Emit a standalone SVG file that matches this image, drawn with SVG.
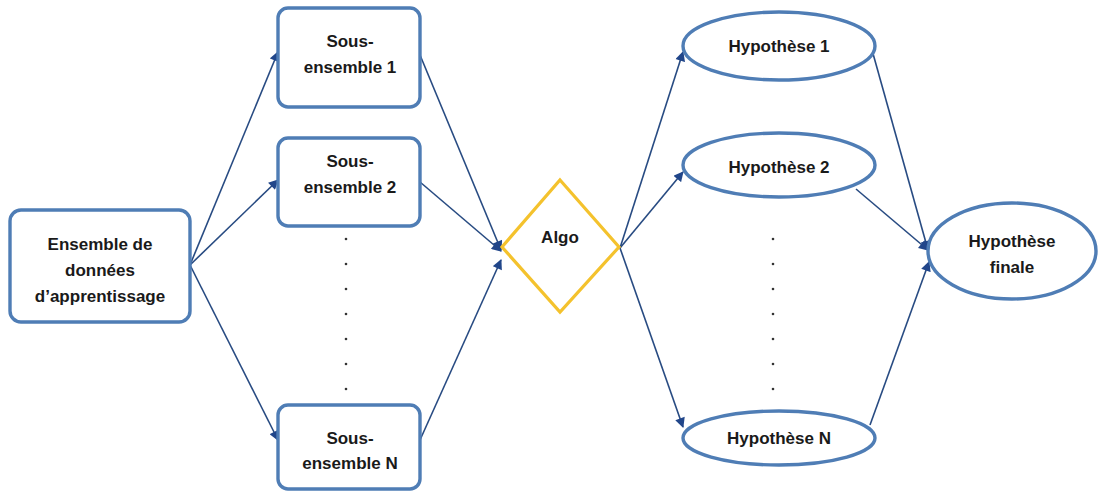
<svg xmlns="http://www.w3.org/2000/svg" width="1102" height="493" viewBox="0 0 1102 493">
  <defs>
    <marker id="arrow" viewBox="0 0 10 10" refX="9" refY="5" markerWidth="11" markerHeight="10" markerUnits="userSpaceOnUse" orient="auto">
      <path d="M0,0 L10,5 L0,10 z" fill="#21468a"/>
    </marker>
    <style>
      .box { fill: #ffffff; stroke: #4f7db5; stroke-width: 3.4; }
      .diamond { fill: #ffffff; stroke: #f4c22d; stroke-width: 3.2; }
      .lbl { font-family: "Liberation Sans", Arial, sans-serif; font-weight: bold; font-size: 17px; fill: #1a1a1a; text-anchor: middle; }
      .link { fill: none; stroke: #284b82; stroke-width: 1.6; marker-end: url(#arrow); }
      .dot { fill: #333333; }
    </style>
  </defs>
  <rect width="1102" height="493" fill="#ffffff"/>

  <!-- connectors -->
  <g id="connectors">
    <path class="link" d="M190,265 L278,52"/>
    <path class="link" d="M190,265 L278,180"/>
    <path class="link" d="M190,265 L278,440"/>
    <path class="link" d="M420,55 L501,250"/>
    <path class="link" d="M420,182 L501,251"/>
    <path class="link" d="M420,440 L501,260"/>
    <path class="link" d="M620,248 L683,52"/>
    <path class="link" d="M620,248 L683,172"/>
    <path class="link" d="M620,248 L683,427"/>
    <path class="link" d="M872,50 L928,250"/>
    <path class="link" d="M856,189 L928,250"/>
    <path class="link" d="M870,425 L929,262"/>
  </g>

  <!-- ellipsis between subsets -->
  <g id="dots-subsets">
    <circle class="dot" cx="346" cy="239" r="1.3"/>
    <circle class="dot" cx="346" cy="264" r="1.3"/>
    <circle class="dot" cx="346" cy="289" r="1.3"/>
    <circle class="dot" cx="346" cy="314" r="1.3"/>
    <circle class="dot" cx="346" cy="339" r="1.3"/>
    <circle class="dot" cx="346" cy="364" r="1.3"/>
    <circle class="dot" cx="346" cy="389" r="1.3"/>
  </g>
  <!-- ellipsis between hypotheses -->
  <g id="dots-hypotheses">
    <circle class="dot" cx="773" cy="239" r="1.3"/>
    <circle class="dot" cx="773" cy="264" r="1.3"/>
    <circle class="dot" cx="773" cy="289" r="1.3"/>
    <circle class="dot" cx="773" cy="314" r="1.3"/>
    <circle class="dot" cx="773" cy="339" r="1.3"/>
    <circle class="dot" cx="773" cy="364" r="1.3"/>
    <circle class="dot" cx="773" cy="389" r="1.3"/>
  </g>

  <g id="training-set">
    <rect class="box" x="10" y="210" width="180" height="112" rx="11"/>
    <text class="lbl" x="100" y="250">Ensemble de</text>
    <text class="lbl" x="100" y="276">données</text>
    <text class="lbl" x="100" y="302">d’apprentissage</text>
  </g>

  <g id="subset-1">
    <rect class="box" x="278" y="8" width="142" height="99" rx="10"/>
    <text class="lbl" x="350" y="47">Sous-</text>
    <text class="lbl" x="350" y="73">ensemble 1</text>
  </g>

  <g id="subset-2">
    <rect class="box" x="278" y="138" width="142" height="88" rx="10"/>
    <text class="lbl" x="350" y="167">Sous-</text>
    <text class="lbl" x="350" y="193">ensemble 2</text>
  </g>

  <g id="subset-n">
    <rect class="box" x="278" y="405" width="142" height="84" rx="10"/>
    <text class="lbl" x="350" y="444">Sous-</text>
    <text class="lbl" x="350" y="469">ensemble N</text>
  </g>

  <g id="algo">
    <path class="diamond" d="M560,180 L619,247 L560,312 L502,247 z"/>
    <text class="lbl" x="560" y="243">Algo</text>
  </g>

  <g id="hypothesis-1">
    <ellipse class="box" cx="779" cy="46" rx="96" ry="34"/>
    <text class="lbl" x="779" y="52">Hypothèse 1</text>
  </g>

  <g id="hypothesis-2">
    <ellipse class="box" cx="779" cy="165" rx="96" ry="32"/>
    <text class="lbl" x="779" y="173">Hypothèse 2</text>
  </g>

  <g id="hypothesis-n">
    <ellipse class="box" cx="779" cy="438" rx="96" ry="27"/>
    <text class="lbl" x="779" y="444">Hypothèse N</text>
  </g>

  <g id="final-hypothesis">
    <ellipse class="box" cx="1012" cy="251" rx="84" ry="48"/>
    <text class="lbl" x="1012" y="247">Hypothèse</text>
    <text class="lbl" x="1012" y="273">finale</text>
  </g>
</svg>
